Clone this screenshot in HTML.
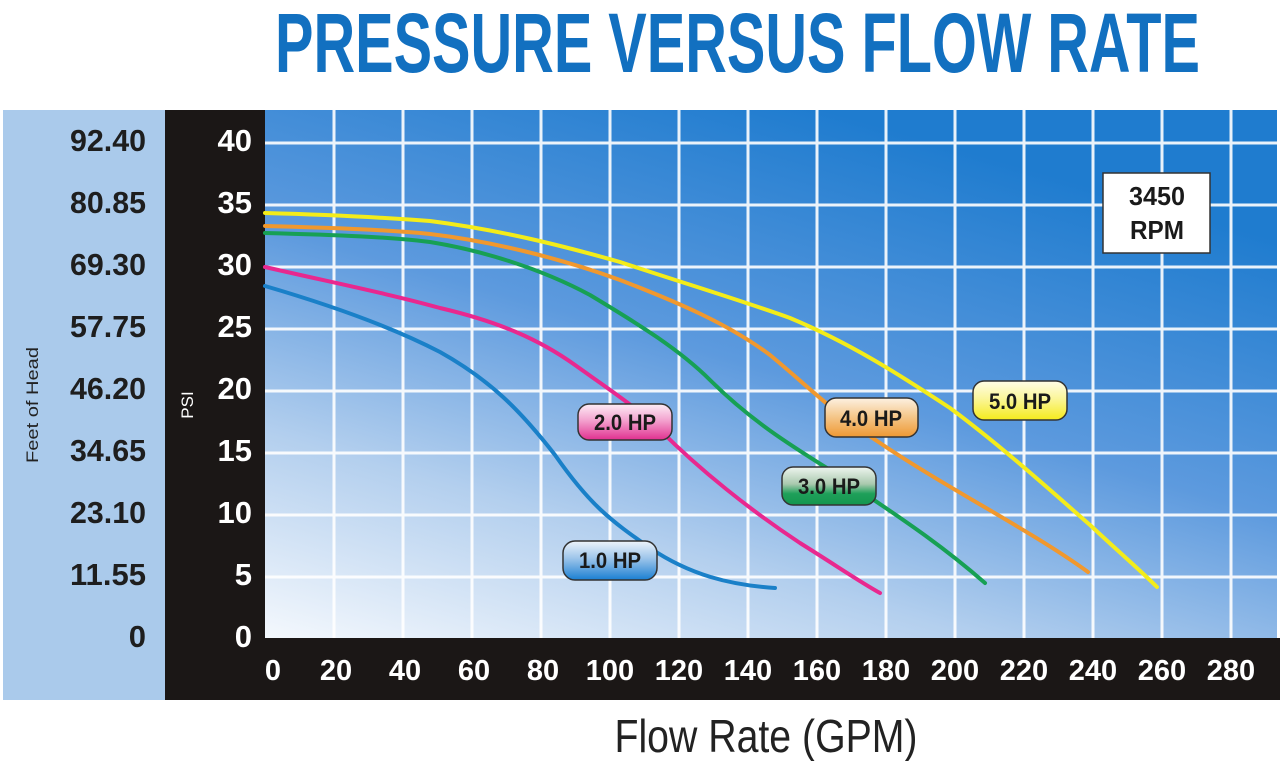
<!DOCTYPE html>
<html><head><meta charset="utf-8"><style>
html,body{margin:0;padding:0;background:#fff;width:1280px;height:761px;overflow:hidden}
svg{display:block}
</style></head><body>
<svg width="1280" height="761" viewBox="0 0 1280 761" xmlns="http://www.w3.org/2000/svg">
<defs>
<linearGradient id="bg" x1="0" y1="1" x2="0.55" y2="0" gradientUnits="objectBoundingBox">
<stop offset="0" stop-color="#f4f8fd"/>
<stop offset="0.3" stop-color="#b3cfee"/>
<stop offset="0.6" stop-color="#5d9ade"/>
<stop offset="1" stop-color="#1f7ccf"/>
</linearGradient>
<linearGradient id="gb" x1="0" y1="0" x2="0" y2="1"><stop offset="0" stop-color="#eef4fb"/><stop offset="0.45" stop-color="#9cc4ea"/><stop offset="1" stop-color="#1a7fd2"/></linearGradient>
<linearGradient id="gp" x1="0" y1="0" x2="0" y2="1"><stop offset="0" stop-color="#fdeef6"/><stop offset="0.45" stop-color="#f3a3cf"/><stop offset="1" stop-color="#e0308f"/></linearGradient>
<linearGradient id="gg" x1="0" y1="0" x2="0" y2="1"><stop offset="0" stop-color="#eef5ef"/><stop offset="0.45" stop-color="#a9c9ae"/><stop offset="0.7" stop-color="#1fa05a"/><stop offset="1" stop-color="#14964f"/></linearGradient>
<linearGradient id="go" x1="0" y1="0" x2="0" y2="1"><stop offset="0" stop-color="#fdf1e2"/><stop offset="0.45" stop-color="#f5c98f"/><stop offset="1" stop-color="#ee9833"/></linearGradient>
<linearGradient id="gy" x1="0" y1="0" x2="0" y2="1"><stop offset="0" stop-color="#fffde8"/><stop offset="0.45" stop-color="#fbf69a"/><stop offset="1" stop-color="#f5eb1c"/></linearGradient>
</defs>
<text x="275" y="72" font-family="Liberation Sans Narrow, Liberation Sans, sans-serif" font-weight="bold" font-size="84" fill="#1270c0" textLength="925" lengthAdjust="spacingAndGlyphs">PRESSURE VERSUS FLOW RATE</text>
<rect x="3" y="110" width="162" height="590" fill="#aacaeb"/>
<rect x="165" y="110" width="100" height="590" fill="#1b1716"/>
<rect x="165" y="638" width="1115" height="62" fill="#1b1716"/>
<rect x="265" y="110" width="1012" height="528" fill="url(#bg)"/>
<g stroke="#ffffff" stroke-width="3" opacity="0.9">
<line x1="334" y1="110" x2="334" y2="638"/><line x1="403" y1="110" x2="403" y2="638"/><line x1="472" y1="110" x2="472" y2="638"/><line x1="541" y1="110" x2="541" y2="638"/><line x1="610" y1="110" x2="610" y2="638"/><line x1="679" y1="110" x2="679" y2="638"/><line x1="748" y1="110" x2="748" y2="638"/><line x1="817" y1="110" x2="817" y2="638"/><line x1="886" y1="110" x2="886" y2="638"/><line x1="955" y1="110" x2="955" y2="638"/><line x1="1024" y1="110" x2="1024" y2="638"/><line x1="1093" y1="110" x2="1093" y2="638"/><line x1="1162" y1="110" x2="1162" y2="638"/><line x1="1231" y1="110" x2="1231" y2="638"/>
<line x1="265" y1="143" x2="1277" y2="143"/><line x1="265" y1="205" x2="1277" y2="205"/><line x1="265" y1="267" x2="1277" y2="267"/><line x1="265" y1="329" x2="1277" y2="329"/><line x1="265" y1="391" x2="1277" y2="391"/><line x1="265" y1="453" x2="1277" y2="453"/><line x1="265" y1="515" x2="1277" y2="515"/><line x1="265" y1="577" x2="1277" y2="577"/>
</g>
<g fill="none" stroke-width="4" stroke-linecap="round" stroke-linejoin="round">
<path stroke="#1a80c8" d="M265,286 C330,305 390,326 440,352 C490,380 520,410 555,455 C590,505 610,520 650,548 C690,575 730,585 775,588"/>
<path stroke="#e8288f" d="M265,267 C330,282 390,294 440,308 C500,322 540,340 575,365 C610,390 640,410 660,430 C700,470 750,510 800,543 C840,568 860,582 880,593"/>
<path stroke="#17a054" d="M265,233 C340,235 390,237 430,242 C480,250 540,268 590,295 C640,325 680,350 710,380 C750,420 790,445 830,470 C880,505 930,535 985,583"/>
<path stroke="#f0982e" d="M265,226 C340,228 390,230 430,234 C490,241 560,258 620,280 C680,303 730,325 770,355 C810,388 830,410 880,443 C950,490 1030,530 1088,572"/>
<path stroke="#f3ec1a" d="M265,213 C340,215 390,218 430,221 C500,230 560,245 620,262 C680,282 740,300 790,318 C850,343 900,375 950,408 C1000,445 1050,490 1090,525 C1120,553 1140,570 1157,587"/>
</g>
<g stroke="#333" stroke-width="1.5">
<rect x="578" y="404" width="94" height="36" rx="11" fill="url(#gp)"/>
<rect x="563" y="541" width="94" height="39" rx="12" fill="url(#gb)"/>
<rect x="782" y="467" width="94" height="38" rx="11" fill="url(#gg)"/>
<rect x="825" y="398" width="93" height="39" rx="11" fill="url(#go)"/>
<rect x="973" y="381" width="94" height="39" rx="11" fill="url(#gy)"/>
<rect x="1103" y="173" width="107" height="80" fill="#ffffff"/>
</g>
<g font-family="Liberation Sans Narrow, Liberation Sans, sans-serif" font-weight="bold" font-size="22" fill="#1a1a1a" text-anchor="middle">
<text x="625" y="430" textLength="62" lengthAdjust="spacingAndGlyphs">2.0 HP</text>
<text x="610" y="568" textLength="62" lengthAdjust="spacingAndGlyphs">1.0 HP</text>
<text x="829" y="494" textLength="62" lengthAdjust="spacingAndGlyphs">3.0 HP</text>
<text x="871" y="426" textLength="62" lengthAdjust="spacingAndGlyphs">4.0 HP</text>
<text x="1020" y="409" textLength="62" lengthAdjust="spacingAndGlyphs">5.0 HP</text>
<text x="1157" y="205" font-size="26" textLength="56" lengthAdjust="spacingAndGlyphs">3450</text>
<text x="1157" y="239" font-size="26" textLength="54" lengthAdjust="spacingAndGlyphs">RPM</text>
</g>
<g font-family="Liberation Sans Narrow, Liberation Sans, sans-serif" font-weight="bold" font-size="31" fill="#1e1e1e" text-anchor="end">
<text x="146" y="151" textLength="76" lengthAdjust="spacingAndGlyphs">92.40</text><text x="146" y="213" textLength="76" lengthAdjust="spacingAndGlyphs">80.85</text><text x="146" y="275" textLength="76" lengthAdjust="spacingAndGlyphs">69.30</text><text x="146" y="337" textLength="76" lengthAdjust="spacingAndGlyphs">57.75</text><text x="146" y="399" textLength="76" lengthAdjust="spacingAndGlyphs">46.20</text><text x="146" y="461" textLength="76" lengthAdjust="spacingAndGlyphs">34.65</text><text x="146" y="523" textLength="76" lengthAdjust="spacingAndGlyphs">23.10</text><text x="146" y="585" textLength="76" lengthAdjust="spacingAndGlyphs">11.55</text><text x="146" y="647">0</text>
</g>
<g font-family="Liberation Sans Narrow, Liberation Sans, sans-serif" font-weight="bold" font-size="31" fill="#ffffff" text-anchor="end">
<text x="252" y="151">40</text><text x="252" y="213">35</text><text x="252" y="275">30</text><text x="252" y="337">25</text><text x="252" y="399">20</text><text x="252" y="461">15</text><text x="252" y="523">10</text><text x="252" y="585">5</text><text x="252" y="647">0</text>
</g>
<g font-family="Liberation Sans Narrow, Liberation Sans, sans-serif" font-weight="bold" font-size="29" fill="#ffffff" text-anchor="middle">
<text x="273" y="680">0</text><text x="336" y="680">20</text><text x="405" y="680">40</text><text x="474" y="680">60</text><text x="543" y="680">80</text><text x="610" y="680">100</text><text x="679" y="680">120</text><text x="748" y="680">140</text><text x="817" y="680">160</text><text x="886" y="680">180</text><text x="955" y="680">200</text><text x="1024" y="680">220</text><text x="1093" y="680">240</text><text x="1162" y="680">260</text><text x="1231" y="680">280</text>
</g>
<text transform="translate(38,405) rotate(-90)" font-family="Liberation Sans Narrow, Liberation Sans, sans-serif" font-size="17" fill="#222" text-anchor="middle" textLength="116" lengthAdjust="spacingAndGlyphs">Feet of Head</text>
<text transform="translate(193,405) rotate(-90)" font-family="Liberation Sans Narrow, Liberation Sans, sans-serif" font-size="17" fill="#fff" text-anchor="middle">PSI</text>
<text x="766" y="752" font-family="Liberation Sans Narrow, Liberation Sans, sans-serif" font-size="46" fill="#222" text-anchor="middle" textLength="303" lengthAdjust="spacingAndGlyphs">Flow Rate (GPM)</text>
</svg>
</body></html>
